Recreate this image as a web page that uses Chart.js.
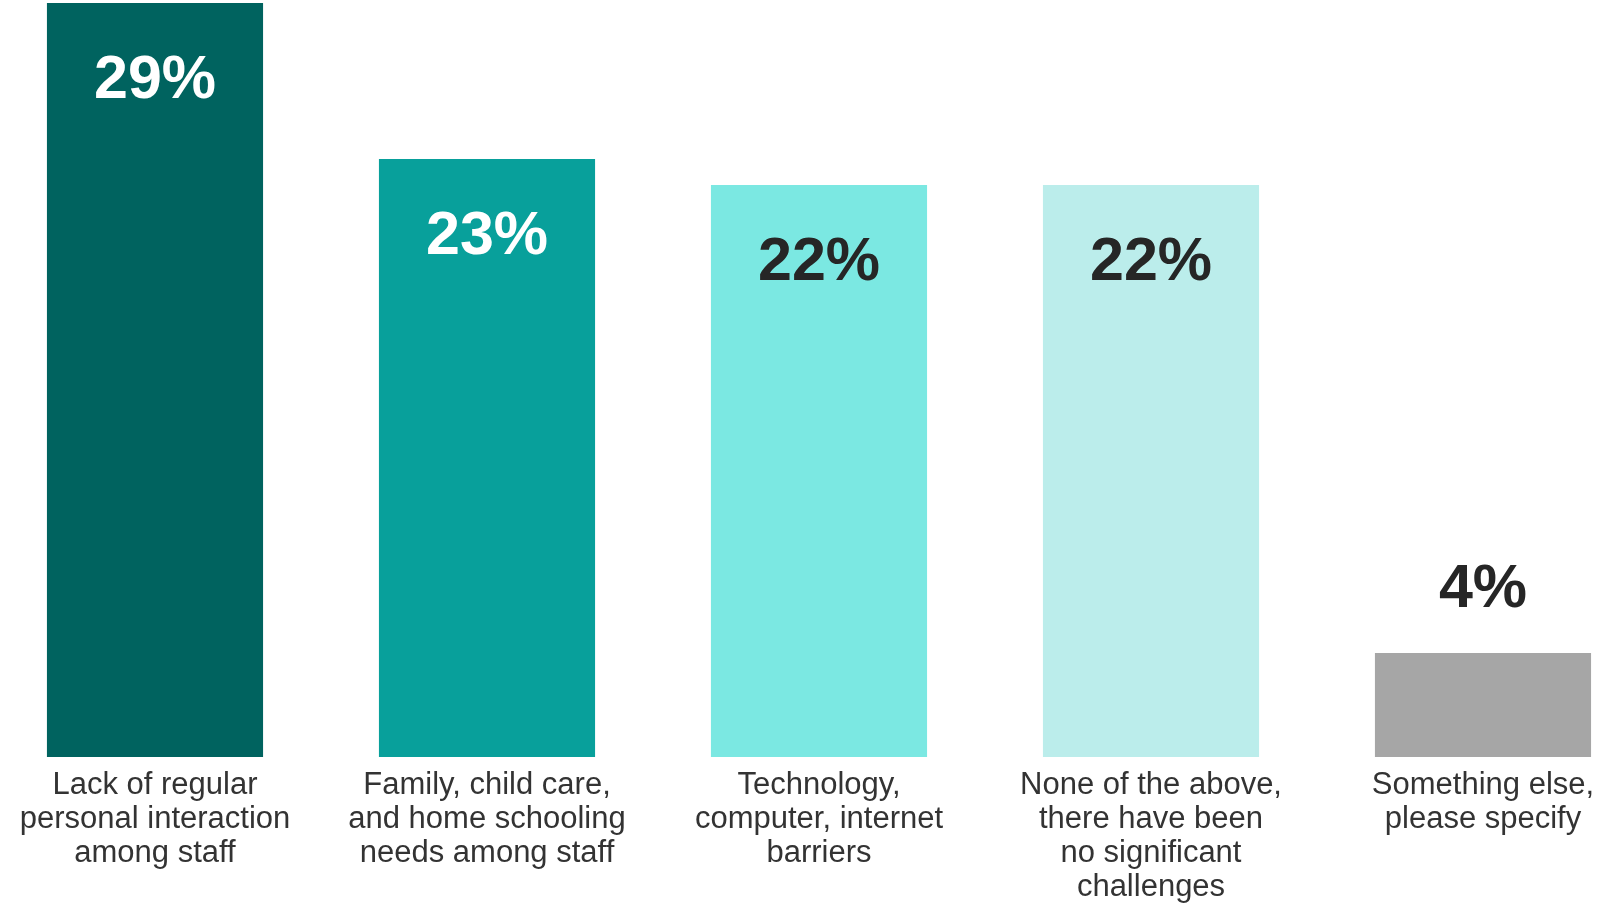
<!DOCTYPE html>
<html>
<head>
<meta charset="utf-8">
<script src="https://cdn.jsdelivr.net/npm/chart.js@4"></script>
<style>
  html, body { margin: 0; padding: 0; background: #fff; overflow: hidden; }
  #wrap { position: absolute; left: -11px; top: 0; width: 1660px; height: 903px; }
</style>
</head>
<body>
<div id="wrap"><canvas id="challengesChart"></canvas></div>
<script>
// Biggest challenges while working remotely
const categories = [
    ['Lack of regular', 'personal interaction', 'among staff'],
    ['Family, child care,', 'and home schooling', 'needs among staff'],
    ['Technology,', 'computer, internet', 'barriers'],
    ['None of the above,', 'there have been', 'no significant', 'challenges'],
    ['Something else,', 'please specify']
];
const shares = [29, 23, 22, 22, 4];
const barColors = ['#00635F', '#08A09B', '#7BE8E2', '#BBEDEB', '#A6A6A6'];
const valueColors = ['#FFFFFF', '#FFFFFF', '#262626', '#262626', '#262626'];

// Draws the percentage on each bar: inside near the top, or above when the bar is short
const valueLabels = {
    id: 'valueLabels',
    afterDatasetsDraw(chart) {
        const ctx = chart.ctx;
        const meta = chart.getDatasetMeta(0);
        ctx.save();
        ctx.font = 'bold 61px "Liberation Sans", Arial, sans-serif';
        ctx.textAlign = 'center';
        ctx.textBaseline = 'middle';
        meta.data.forEach((bar, i) => {
            const h = bar.base - bar.y;
            const y = h > 160 ? bar.y + 78 : bar.y - 63;
            ctx.fillStyle = h > 160 ? valueColors[i] : '#262626';
            ctx.fillText(shares[i] + '%', bar.x, y);
        });
        ctx.restore();
    }
};

const ctx = document.getElementById('challengesChart').getContext('2d');
new Chart(ctx, {
    type: 'bar',
    data: {
        labels: categories,
        datasets: [{
            data: shares,
            backgroundColor: barColors,
            borderWidth: 0,
            categoryPercentage: 1,
            barPercentage: 0.651
        }]
    },
    options: {
        responsive: true,
        maintainAspectRatio: false,
        animation: false,
        layout: { padding: { top: 3, left: 0, right: 0, bottom: 0 } },
        plugins: {
            legend: { display: false },
            tooltip: { enabled: false }
        },
        scales: {
            x: {
                grid: { display: false },
                border: { display: false },
                afterFit: (scale) => { scale.height = 146; },
                ticks: {
                    color: '#333333',
                    padding: 3,
                    maxRotation: 0,
                    autoSkip: false,
                    font: { family: '"Liberation Sans", Arial, sans-serif', size: 31, lineHeight: 1.1 }
                }
            },
            y: {
                display: false,
                min: 0,
                max: 29
            }
        }
    },
    plugins: [valueLabels]
});
</script>
</body>
</html>
